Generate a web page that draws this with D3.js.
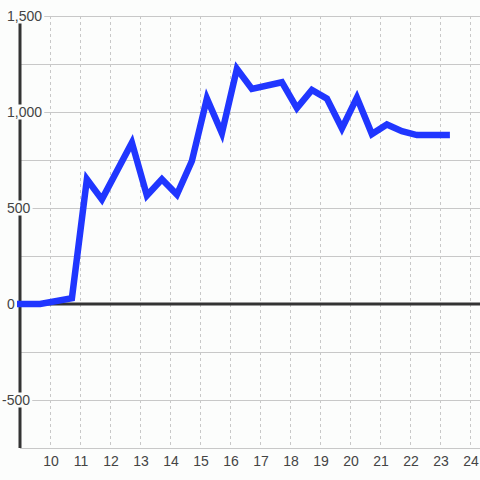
<!DOCTYPE html>
<html><head><meta charset="utf-8">
<script src="https://cdn.jsdelivr.net/npm/d3@7"></script>
<style>
html,body{margin:0;padding:0;background:#fcfdfc;}
svg{display:block;font-family:"Liberation Sans",Arial,sans-serif;}
</style></head>
<body>
<script>
const hours = [8.9, 9.67, 10.73, 11.23, 11.73, 12.73, 13.23, 13.73, 14.23, 14.73, 15.23, 15.73, 16.23, 16.73, 17.73, 18.23, 18.73, 19.23, 19.73, 20.23, 20.73, 21.23, 21.73, 22.23, 23.33];
const values = [0, 0, 30, 650, 545, 840, 565, 650, 570, 745, 1070, 890, 1225, 1120, 1155, 1020, 1115, 1070, 915, 1075, 885, 935, 900, 880, 880];
const xTicks = [10, 11, 12, 13, 14, 15, 16, 17, 18, 19, 20, 21, 22, 23, 24];
const yTicks = [-500, 0, 500, 1000, 1500];
const yGrid = [-750, -500, -250, 0, 250, 500, 750, 1000, 1250, 1500];

const W = 480, H = 480;
const mLeft = 20, mRight = 480, mTop = 16, mBottom = 448;
const x = d3.scaleLinear().domain([9, 24 + 1/3]).range([mLeft, mRight]);
const y = d3.scaleLinear().domain([-750, 1500]).range([mBottom, mTop]);

const svg = d3.select("body").append("svg").attr("width", W).attr("height", H);
svg.append("rect").attr("width", W).attr("height", H).attr("fill", "#fcfdfc");

// vertical dashed gridlines
svg.append("g").selectAll("line").data(xTicks).join("line")
  .attr("x1", d => Math.round(x(d)) + 0.5).attr("x2", d => Math.round(x(d)) + 0.5)
  .attr("y1", mTop).attr("y2", mBottom)
  .attr("stroke", "#c8c8c8").attr("stroke-width", 1).attr("stroke-dasharray", "3,3");

// horizontal gridlines
svg.append("g").selectAll("line").data(yGrid).join("line")
  .attr("x1", mLeft).attr("x2", mRight)
  .attr("y1", d => Math.round(y(d)) + 0.5).attr("y2", d => Math.round(y(d)) + 0.5)
  .attr("stroke", "#c8c8c8").attr("stroke-width", 1);

// zero line
svg.append("line").attr("x1", mLeft).attr("x2", mRight)
  .attr("y1", y(0)).attr("y2", y(0))
  .attr("stroke", "#333").attr("stroke-width", 3);

// left axis line
svg.append("line").attr("x1", mLeft).attr("x2", mLeft)
  .attr("y1", mTop).attr("y2", mBottom)
  .attr("stroke", "#333").attr("stroke-width", 3);

// y labels with background
const loc = d3.formatLocale({decimal: ".", thousands: ",", grouping: [3], currency: ["$", ""], minus: "-"});
const fmt = loc.format(",");
const yl = svg.append("g").selectAll("g").data(yTicks).join("g")
  .attr("transform", d => `translate(0,${y(d)})`);
yl.each(function(d) {
  const g = d3.select(this);
  const t = g.append("text").text(fmt(d)).attr("font-size", 14).attr("fill", "#444")
    .attr("dy", "0.35em").attr("x", d < 0 ? 2 : 7);
  const bb = t.node().getBBox();
  g.insert("rect", "text").attr("x", 0).attr("y", -7.5)
    .attr("width", bb.x + bb.width + 2).attr("height", 15).attr("fill", "#fcfdfc");
});

// x labels
svg.append("g").selectAll("text").data(xTicks).join("text")
  .attr("x", d => x(d) + 1).attr("y", 466)
  .attr("text-anchor", "middle").attr("font-size", 14).attr("fill", "#444")
  .text(d => d);

// data line
const line = d3.line().x((d, i) => x(hours[i])).y(d => y(d));
svg.append("path").datum(values).attr("d", line)
  .attr("fill", "none").attr("stroke", "#2036ff").attr("stroke-width", 6.5)
  .attr("stroke-linejoin", "miter");
</script>
</body></html>
